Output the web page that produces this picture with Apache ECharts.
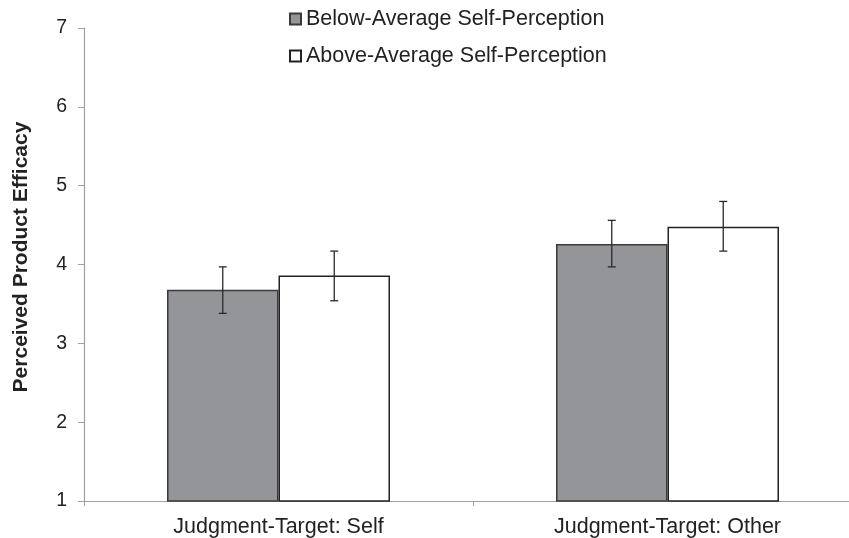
<!DOCTYPE html>
<html>
<head>
<meta charset="utf-8">
<script src="https://cdn.jsdelivr.net/npm/echarts@6/dist/echarts.min.js"></script>
<style>
  html, body { margin: 0; padding: 0; background: #fff; }
  #chart { width: 849px; height: 538px; }
</style>
</head>
<body>
<div id="chart"></div>
<script>
// Judgment targets along the x axis
const categories = ['Judgment-Target: Self', 'Judgment-Target: Other'];
const seriesNames = ['Below-Average Self-Perception', 'Above-Average Self-Perception'];

// Mean perceived product efficacy per group
const belowMeans = [3.68, 4.26];
const aboveMeans = [3.86, 4.48];

// Error bar ranges (low, high)
const belowLow = [3.38, 3.97];
const belowHigh = [3.97, 4.56];
const aboveLow = [3.54, 4.17];
const aboveHigh = [4.17, 4.80];

const yTicks = [1, 2, 3, 4, 5, 6, 7];

const FONT = '"Liberation Sans", Arial, Helvetica, sans-serif';
const BAR_RATIO = 0.2866; // bar width as a fraction of the category band

function errorData(low, high) {
  return categories.map((c, i) => [i, low[i], high[i]]);
}

function errorSeries(low, high, side) {
  return {
    type: 'custom',
    silent: true,
    z: 5,
    data: errorData(low, high),
    renderItem: function (params, api) {
      const idx = api.value(0);
      const band = api.size([1, 0])[0];
      const barW = band * BAR_RATIO;
      const center = api.coord([idx, 0])[0] + side * barW / 2;
      const top = api.coord([idx, api.value(2)])[1];
      const bot = api.coord([idx, api.value(1)])[1];
      const cap = 4;
      const style = { stroke: '#2a2a2a', lineWidth: 1.3 };
      return {
        type: 'group',
        children: [
          { type: 'line', shape: { x1: center, y1: top, x2: center, y2: bot }, style: style },
          { type: 'line', shape: { x1: center - cap, y1: top, x2: center + cap, y2: top }, style: style },
          { type: 'line', shape: { x1: center - cap, y1: bot, x2: center + cap, y2: bot }, style: style }
        ]
      };
    }
  };
}

const chart = echarts.init(document.getElementById('chart'), null, { renderer: 'canvas' });

chart.setOption({
  animation: false,
  backgroundColor: '#ffffff',
  grid: { left: 84, top: 28, width: 778, height: 473, containLabel: false, outerBoundsMode: 'none' },
  legend: {
    orient: 'vertical',
    left: 284,
    top: 3,
    itemWidth: 11,
    itemHeight: 11,
    itemGap: 15,
    icon: 'rect',
    textStyle: { fontFamily: FONT, fontSize: 21.5, color: '#222' },
    data: seriesNames.map(n => ({ name: n }))
  },
  xAxis: {
    type: 'category',
    data: categories,
    axisLine: { lineStyle: { color: '#a0a0a0', width: 1.2 } },
    axisTick: { show: true, alignWithLabel: false, length: 5, lineStyle: { color: '#a0a0a0' } },
    axisLabel: { fontFamily: FONT, fontSize: 21.5, color: '#222', margin: 15 },
    splitLine: { show: false }
  },
  yAxis: {
    type: 'value',
    min: yTicks[0],
    max: yTicks[yTicks.length - 1],
    interval: 1,
    axisLine: { show: true, lineStyle: { color: '#a0a0a0', width: 1.2 } },
    axisTick: { show: true, length: 6, lineStyle: { color: '#a0a0a0' } },
    axisLabel: { fontFamily: FONT, fontSize: 19.5, color: '#222', margin: 17 },
    splitLine: { show: false }
  },
  graphic: [{
    type: 'text',
    x: 21,
    y: 257,
    rotation: Math.PI / 2,
    style: {
      text: 'Perceived Product Efficacy',
      font: 'bold 21px ' + FONT,
      fill: '#222',
      align: 'center',
      verticalAlign: 'middle'
    }
  }],
  series: [
    {
      name: seriesNames[0],
      type: 'bar',
      data: belowMeans,
      barWidth: (BAR_RATIO * 100) + '%',
      barGap: '0%',
      itemStyle: { color: '#939598', borderColor: '#3a3a3a', borderWidth: 1.5 }
    },
    {
      name: seriesNames[1],
      type: 'bar',
      data: aboveMeans,
      barWidth: (BAR_RATIO * 100) + '%',
      barGap: '0%',
      itemStyle: { color: '#ffffff', borderColor: '#222222', borderWidth: 1.5 }
    },
    errorSeries(belowLow, belowHigh, -1),
    errorSeries(aboveLow, aboveHigh, 1)
  ]
});
</script>
</body>
</html>
